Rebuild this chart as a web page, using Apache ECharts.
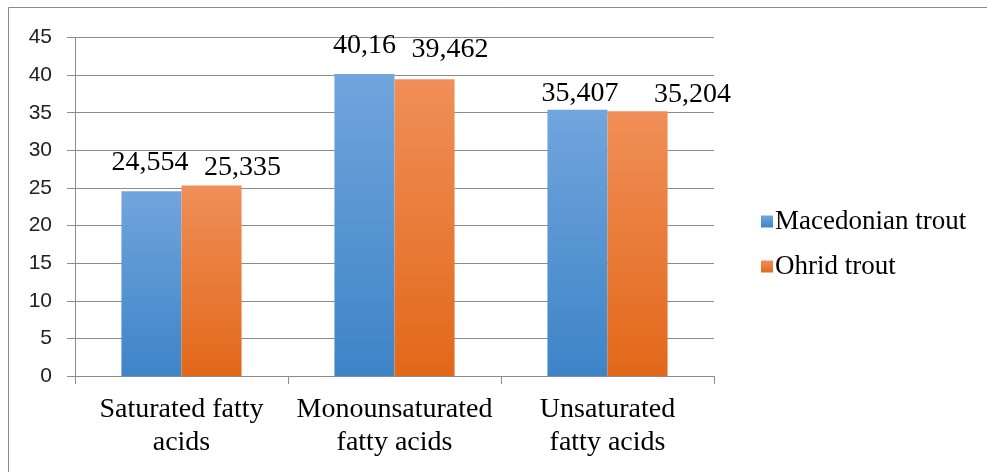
<!DOCTYPE html>
<html><head><meta charset="utf-8">
<script src="https://cdn.jsdelivr.net/npm/echarts@6/dist/echarts.min.js"></script>
<style>html,body{margin:0;padding:0;background:#fff}#c{width:987px;height:472px}</style>
</head><body><div id="c"></div>
<script>
const categories = ['Saturated fatty\nacids', 'Monounsaturated\nfatty acids', 'Unsaturated\nfatty acids'];
const macedonian = [24.554, 40.16, 35.407];
const ohrid = [25.335, 39.462, 35.204];
const yTicks = [0, 5, 10, 15, 20, 25, 30, 35, 40, 45];

// label nudges (layout only), as Excel spreads overlapping labels
const macLabelOffset = [[-1.5, -1], [0, 0], [2.5, 12]];
const ohrLabelOffset = [[31, 10], [25.5, -2], [55, 11]];

const serif = 'Liberation Serif';
const sans = 'Liberation Sans';
const blueGrad = new echarts.graphic.LinearGradient(0,0,0,1,[{offset:0,color:'#71a5dd'},{offset:1,color:'#3d84c7'}]);
const orangeGrad = new echarts.graphic.LinearGradient(0,0,0,1,[{offset:0,color:'#f08f58'},{offset:1,color:'#e2681a'}]);
const fmt = p => String(p.value).replace('.', ',');

function build(values, offsets) {
  return values.map((v, i) => ({value: v, label: {offset: offsets[i]}}));
}

const chart = echarts.init(document.getElementById('c'));
chart.setOption({
  animation: false,
  textStyle: {fontFamily: serif},
  graphic: [{type:'rect', shape:{x:8.5,y:7.5,width:1000,height:480}, style:{fill:'none', stroke:'#8c8c8c', lineWidth:1}, silent:true}],
  grid: {left: 75, right: 273, top: 37.5, bottom: 96},
  legend: {
    orient: 'vertical', left: 756, top: 203, itemWidth: 12, itemHeight: 12, itemGap: 18, icon: 'rect',
    textStyle: {fontFamily: serif, fontSize: 27, color: '#000', padding:[0,0,0,-3]},
    data: ['Macedonian trout', 'Ohrid trout']
  },
  xAxis: {
    type: 'category', data: categories,
    axisLine: {lineStyle: {color: '#8c8c8c'}},
    axisTick: {show: true, length: 8, alignWithLabel: false, lineStyle: {color: '#8c8c8c'}},
    axisLabel: {interval: 0, margin: 17,
      formatter: v => v.split('\n').map(s => '{s|' + s + '}').join('\n'),
      rich: {s: {fontFamily: serif, fontSize: 28, color: '#000', lineHeight: 33}}}
  },
  yAxis: {
    type: 'value', min: 0, max: 45, interval: 5,
    axisLine: {show: true, lineStyle: {color: '#8c8c8c'}},
    axisTick: {show: true, length: 8, lineStyle: {color: '#8c8c8c'}},
    splitLine: {lineStyle: {color: '#8c8c8c'}},
    axisLabel: {fontFamily: sans, fontSize: 21, color: '#222', margin: 23,
      formatter: v => yTicks.includes(v) ? String(v) : ''}
  },
  series: [
    {name: 'Macedonian trout', type: 'bar', data: build(macedonian, macLabelOffset), barGap: '0%', barCategoryGap: '43.6%',
     itemStyle: {color: blueGrad},
     label: {show: true, position: 'top', distance: 14, fontFamily: serif, fontSize: 28, color: '#000', formatter: fmt}},
    {name: 'Ohrid trout', type: 'bar', data: build(ohrid, ohrLabelOffset), barGap: '0%', barCategoryGap: '43.6%',
     itemStyle: {color: orangeGrad},
     label: {show: true, position: 'top', distance: 14, fontFamily: serif, fontSize: 28, color: '#000', formatter: fmt}}
  ]
});
</script></body></html>
